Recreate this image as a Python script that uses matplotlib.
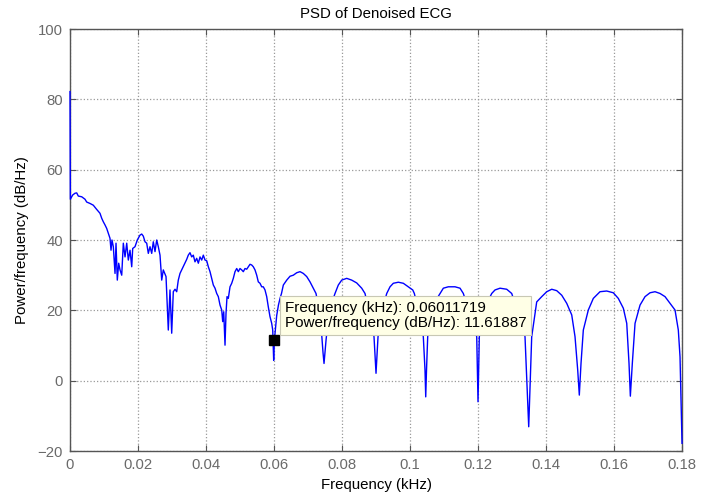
import matplotlib
matplotlib.use("Agg")
from matplotlib import pyplot as plt

plt.rcParams["font.family"] = ["Liberation Sans", "DejaVu Sans"]

# PSD of the denoised ECG (frequency in kHz, power in dB/Hz)
freq_khz = [
    0.0, 0.0001, 0.00079, 0.00147, 0.00197, 0.00244, 0.00344, 0.00441, 0.00491, 0.00588,
    0.00685, 0.00785, 0.00882, 0.00932, 0.00979, 0.01029, 0.01079, 0.01126, 0.01176, 0.01206,
    0.01235, 0.01274, 0.01324, 0.01353, 0.01391, 0.01432, 0.01471, 0.01521, 0.01568, 0.01618,
    0.01668, 0.01715, 0.01765, 0.01815, 0.01844, 0.01912, 0.01979, 0.02059, 0.02109, 0.02156,
    0.02206, 0.02256, 0.02303, 0.02353, 0.02403, 0.0245, 0.025, 0.0255, 0.02597, 0.02647,
    0.02697, 0.02744, 0.02824, 0.02891, 0.02941, 0.02991, 0.03038, 0.03088, 0.03138, 0.03185,
    0.03235, 0.03285, 0.03332, 0.03382, 0.03432, 0.03479, 0.03529, 0.03579, 0.03626, 0.03676,
    0.03726, 0.03774, 0.03824, 0.03874, 0.03921, 0.03971, 0.04021, 0.04068, 0.04118, 0.04168,
    0.04215, 0.04265, 0.04315, 0.04362, 0.04412, 0.04462, 0.04491, 0.04521, 0.04559, 0.04588,
    0.04618, 0.04656, 0.04706, 0.04756, 0.04803, 0.04853, 0.04903, 0.0495, 0.05, 0.0505,
    0.05097, 0.05147, 0.05197, 0.05244, 0.05294, 0.05344, 0.05391, 0.05441, 0.05491, 0.05538,
    0.05588, 0.05638, 0.05685, 0.05735, 0.05785, 0.05832, 0.05882, 0.05932, 0.05962, 0.0599,
    0.06011719, 0.06079, 0.0613, 0.0618, 0.0622, 0.06274, 0.06374, 0.06471, 0.06568, 0.06668,
    0.06765, 0.06862, 0.06962, 0.07059, 0.07156, 0.07235, 0.07309, 0.07368, 0.07403, 0.07441,
    0.07471, 0.075, 0.0753, 0.07588, 0.07676, 0.07794, 0.07891, 0.07991, 0.08138, 0.08285,
    0.08432, 0.08579, 0.08676, 0.08765, 0.08853, 0.08941, 0.09, 0.09059, 0.09147, 0.09235,
    0.09315, 0.09412, 0.09509, 0.09656, 0.09803, 0.0995, 0.1008, 0.10127, 0.10221, 0.10309,
    0.10391, 0.10441, 0.10462, 0.10485, 0.1052, 0.10603, 0.10706, 0.10882, 0.1098, 0.11126,
    0.11324, 0.11471, 0.11568, 0.11676, 0.11794, 0.11897, 0.11962, 0.12, 0.12038, 0.12118,
    0.12235, 0.12403, 0.125, 0.12647, 0.12844, 0.12991, 0.13103, 0.13221, 0.13324, 0.13382,
    0.13491, 0.13579, 0.13726, 0.13874, 0.14021, 0.14168, 0.14315, 0.14462, 0.14609, 0.14756,
    0.14853, 0.14932, 0.14979, 0.15029, 0.15097, 0.15244, 0.15391, 0.15588, 0.15785, 0.15979,
    0.16126, 0.16274, 0.16374, 0.16441, 0.1648, 0.16538, 0.16618, 0.16765, 0.16912, 0.17059,
    0.17206, 0.17353, 0.175, 0.17647, 0.17794, 0.17891, 0.17941, 0.18,
]
power_db = [
    82.2, 51.6, 52.8, 53.3, 53.4, 52.5, 52.3, 51.6, 50.8, 50.4,
    49.9, 48.7, 47.6, 46.2, 45.2, 44.3, 43.3, 41.9, 40.5, 37.1,
    40.0, 38.1, 30.5, 39.1, 28.6, 33.4, 31.5, 30.0, 39.1, 35.2,
    39.1, 34.3, 37.1, 32.4, 37.6, 38.1, 40.0, 41.4, 41.7, 41.1,
    39.5, 39.1, 36.2, 38.1, 36.2, 39.5, 36.7, 40.0, 38.1, 35.7,
    28.6, 31.5, 29.6, 14.4, 25.8, 13.5, 25.3, 26.0, 25.3, 28.6,
    30.5, 31.5, 32.4, 33.4, 34.5, 35.7, 36.4, 35.2, 35.7, 33.8,
    34.8, 33.4, 35.2, 34.3, 35.7, 34.3, 34.1, 32.4, 31.0, 29.1,
    27.2, 26.3, 24.8, 23.9, 21.5, 20.1, 16.8, 19.6, 10.1, 19.1,
    23.9, 23.4, 26.7, 27.7, 29.1, 31.0, 31.9, 31.0, 31.9, 31.5,
    31.0, 31.9, 31.7, 32.4, 33.1, 32.9, 32.4, 31.5, 30.0, 28.1,
    27.7, 26.7, 26.7, 25.8, 23.9, 21.0, 18.2, 16.3, 14.4, 5.8,
    11.61887, 18.5, 21.5, 23.5, 24.8, 27.2, 28.6, 29.7, 30.0, 30.7,
    31.0, 30.5, 29.6, 28.1, 26.3, 24.8, 21.0, 17.0, 13.0, 8.0,
    4.9, 8.0, 11.5, 17.0, 21.5, 24.8, 27.2, 28.6, 29.1, 28.6,
    27.8, 26.3, 24.8, 21.0, 16.5, 12.5, 2.1, 12.5, 17.5, 22.0,
    24.8, 26.7, 27.7, 28.0, 27.7, 26.7, 25.8, 24.8, 21.0, 16.5,
    12.5, 3.0, -4.6, 3.0, 12.5, 18.0, 22.0, 24.8, 26.3, 26.7,
    26.7, 26.3, 24.8, 21.5, 17.5, 14.5, 12.5, -6.0, 12.5, 17.0,
    21.5, 24.8, 25.8, 26.3, 26.0, 24.8, 21.5, 17.5, 15.5, 12.5,
    -13.1, 12.5, 22.4, 23.9, 25.3, 26.0, 25.6, 24.3, 22.0, 18.7,
    12.5, 3.0, -4.1, 4.9, 14.4, 20.1, 23.4, 25.3, 25.5, 25.0,
    23.4, 20.6, 16.3, 4.9, -4.4, 4.9, 16.3, 21.5, 23.9, 25.0,
    25.3, 24.8, 23.9, 22.0, 20.1, 14.4, 6.8, -17.8,
]

tip_freq = 0.06011719
tip_power = 11.61887

x_ticks = [0, 0.02, 0.04, 0.06, 0.08, 0.1, 0.12, 0.14, 0.16, 0.18]
x_tick_labels = ["0", "0.02", "0.04", "0.06", "0.08", "0.1", "0.12", "0.14", "0.16", "0.18"]
y_ticks = [-20, 0, 20, 40, 60, 80, 100]

fig = plt.figure(figsize=(7.1, 4.92), dpi=100)
ax = fig.add_axes([0.0986, 0.0833, 0.862, 0.8577])

# curve sits above the spines so the DC spike and the last bin stay visible
ax.plot(freq_khz, power_db, color=(0, 0, 1), lw=1.0, zorder=3, clip_on=False)
ax.plot([tip_freq], [tip_power], marker="s", color="black", markersize=6.5, ls="none", zorder=5)

ax.text(
    0.0632, 18.6,
    f"Frequency (kHz): {tip_freq:.8f}\nPower/frequency (dB/Hz): {tip_power:.5f}",
    fontsize=11, va="center", ha="left", linespacing=1.12, zorder=6,
    bbox=dict(boxstyle="square,pad=0.3", facecolor="#ffffe6", edgecolor="#c8c8b4", lw=0.8),
)

ax.set_xlim(0, 0.18)
ax.set_ylim(-20, 100)
ax.set_xticks(x_ticks)
ax.set_xticklabels(x_tick_labels)
ax.set_yticks(y_ticks)

ax.grid(True, color="0.6", ls=":", lw=0.9)
ax.set_axisbelow(True)
for s in ax.spines.values():
    s.set_color("#555555")
    s.set_linewidth(1.0)
ax.tick_params(direction="in", length=4, width=0.8, color="#555555", labelcolor="#6a6a6a",
               labelsize=10.7, top=True, right=True, pad=5)

ax.set_title("PSD of Denoised ECG", fontsize=10.8, pad=8)
ax.set_xlabel("Frequency (kHz)", fontsize=10.8, labelpad=4)
ax.set_ylabel("Power/frequency (dB/Hz)", fontsize=10.8, labelpad=6)

plt.savefig("out.png", dpi=100)
